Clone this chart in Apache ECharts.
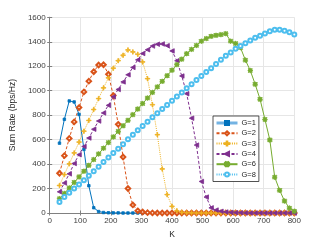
<!DOCTYPE html>
<html><head><meta charset="utf-8">
<script src="https://cdn.jsdelivr.net/npm/echarts@6/dist/echarts.min.js"></script>
<style>html,body{margin:0;padding:0;background:#fff}#c{width:325px;height:244px}</style>
</head><body><div id="c"></div>
<script>
var K = [32,48,64,80,96,112,128,144,160,176,192,208,224,240,256,272,288,304,320,336,352,368,384,400,416,432,448,464,480,496,512,528,544,560,576,592,608,624,640,656,672,688,704,720,736,752,768,784,800];
var G1 = [571,766,916,908,806,520,223,43,12,4,2,1,1,0,0,0,0,0,0,0,0,0,0,0,0,0,0,0,0,0,0,0,0,0,0,0,0,0,0,0,0,0,0,0,0,0,0,0,0];
var G2 = [325,469,610,745,862,990,1078,1155,1210,1212,1135,960,725,458,200,66,18,8,3,1,0,0,0,0,0,0,0,0,0,0,0,0,0,0,0,0,0,0,0,0,0,0,0,0,0,0,0,0,0];
var G3 = [225,314,402,491,580,669,757,846,935,1023,1105,1184,1245,1290,1333,1317,1298,1235,1098,885,640,360,150,55,18,6,2,1,0,0,0,0,0,0,0,0,0,0,0,0,0,0,0,0,0,0,0,0,0];
var G4 = [173,245,320,405,477,544,613,685,752,818,880,950,1010,1072,1130,1190,1252,1304,1335,1365,1380,1382,1368,1325,1245,1120,975,775,555,258,130,42,24,14,8,5,3,2,1,0,0,0,0,0,0,0,0,0,0];
var G6 = [117,160,205,250,295,342,390,437,483,530,576,622,667,713,758,804,850,895,940,986,1031,1077,1122,1168,1213,1258,1302,1338,1370,1405,1426,1445,1453,1458,1466,1405,1386,1352,1250,1165,1053,930,765,597,293,186,98,40,15];
var G8 = [90,130,165,200,234,268,304,342,378,416,453,490,526,563,603,640,677,712,747,782,816,850,884,918,952,986,1019,1053,1087,1120,1152,1184,1218,1252,1285,1312,1342,1365,1388,1410,1432,1450,1467,1485,1498,1498,1490,1478,1460];
var names = ['G=1','G=2','G=3','G=4','G=6','G=8'];
var xTicks = [0,100,200,300,400,500,600,700,800];
var yTicks = [0,200,400,600,800,1000,1200,1400,1600];

var FONT = 'Liberation Sans, Arial, sans-serif';
var PLUS = 'path://M4.2,0H5.8V4.2H10V5.8H5.8V10H4.2V5.8H0V4.2H4.2Z';
var STAR = 'path://M4.1,0H5.9V10H4.1Z M0,4.1H10V5.9H0Z M1.5,0.2L9.8,8.5L8.5,9.8L0.2,1.5Z M8.5,0.2L9.8,1.5L1.5,9.8L0.2,8.5Z';
function pairs(v){ return K.map(function(k,i){ return [k, v[i]]; }); }
function mk(name, v, color, lineType, symbol, size, opts){
  var s = {
    name: name, type: 'line', data: pairs(v), symbol: symbol, symbolSize: size,
    lineStyle: {color: color, width: 1, type: lineType},
    itemStyle: {color: color, borderColor: color, borderWidth: 0.8},
    emphasis: {disabled: true}, animation: false, z: 2
  };
  if (opts) for (var k in opts) s[k] = opts[k];
  return s;
}
var series = [
  mk(names[0], G1, '#0072BD', 'solid', 'rect', 2.5),
  mk(names[1], G2, '#D95319', [3,2], 'emptyDiamond', 4.5, {itemStyle:{color:'#D95319', borderColor:'#D95319', borderWidth:1.2}}),
  mk(names[2], G3, '#EDB120', [1,1.2], PLUS, 4.5),
  mk(names[3], G4, '#7E2F8E', [3,2], 'triangle', 4.5, {symbolRotate: 90}),
  mk(names[4], G6, '#77AC30', 'solid', STAR, 4.5),
  mk(names[5], G8, '#4DBEEE', [1,1.2], 'emptyCircle', 4, {itemStyle:{color:'#4DBEEE', borderColor:'#4DBEEE', borderWidth:1.2}})
];
var axisCommon = {
  axisLine: {show: true, lineStyle: {color: '#808080', width: 1}},
  axisTick: {show: true, inside: true, length: 2.5, lineStyle: {color: '#808080'}},
  splitLine: {show: false}
};
var chart = echarts.init(document.getElementById('c'), null, {renderer: 'canvas'});
chart.setOption({
  animation: false,
  backgroundColor: '#ffffff',
  textStyle: {fontFamily: FONT},
  grid: {left: 42.3, right: 30.7, top: 17.3, bottom: 26.7, containLabel: false},
  legend: {
    data: names.map(function(n, i){
      if (i === 0) return {name: n, lineStyle: {width: 3, color: '#73b3e3'}, itemStyle: {color: '#0072BD'}};
      return {name: n};
    }),
    orient: 'vertical', left: 213, top: 116,
    itemWidth: 21, itemHeight: 5, itemGap: 2.3,
    padding: [3, 3, 3, 2],
    backgroundColor: '#ffffff', borderColor: '#262626', borderWidth: 0.8, borderRadius: 0,
    textStyle: {fontSize: 7.5, color: '#262626', fontFamily: FONT, padding: [0,0,0,-1], lineHeight: 7},
    selectedMode: false
  },
  xAxis: [
    Object.assign({}, axisCommon, {
      type: 'value', min: 0, max: 800, interval: 100, position: 'bottom',
      name: 'K', nameLocation: 'middle', nameGap: 17,
      nameTextStyle: {fontSize: 8.5, color: '#262626', fontFamily: FONT},
      axisLabel: {fontSize: 8, color: '#404040', margin: 4, fontFamily: FONT,
        formatter: function(v){ return xTicks.indexOf(v) >= 0 ? String(v) : ''; }},
      splitLine: {show: true, lineStyle: {color: '#e6e6e6', width: 1}}
    }),
    Object.assign({}, axisCommon, {
      type: 'value', min: 0, max: 800, interval: 100, position: 'top',
      axisLabel: {show: false}
    })
  ],
  yAxis: [
    Object.assign({}, axisCommon, {
      type: 'value', min: 0, max: 1600, interval: 200, position: 'left',
      name: 'Sum Rate (bps/Hz)', nameLocation: 'middle', nameGap: 27,
      nameTextStyle: {fontSize: 8.5, color: '#262626', fontFamily: FONT},
      axisLabel: {fontSize: 8, color: '#404040', margin: 4, fontFamily: FONT,
        formatter: function(v){ return yTicks.indexOf(v) >= 0 ? String(v) : ''; }},
      splitLine: {show: true, lineStyle: {color: '#e6e6e6', width: 1}}
    }),
    Object.assign({}, axisCommon, {
      type: 'value', min: 0, max: 1600, interval: 200, position: 'right',
      axisLabel: {show: false}
    })
  ],
  series: series
});
</script>
</body></html>
